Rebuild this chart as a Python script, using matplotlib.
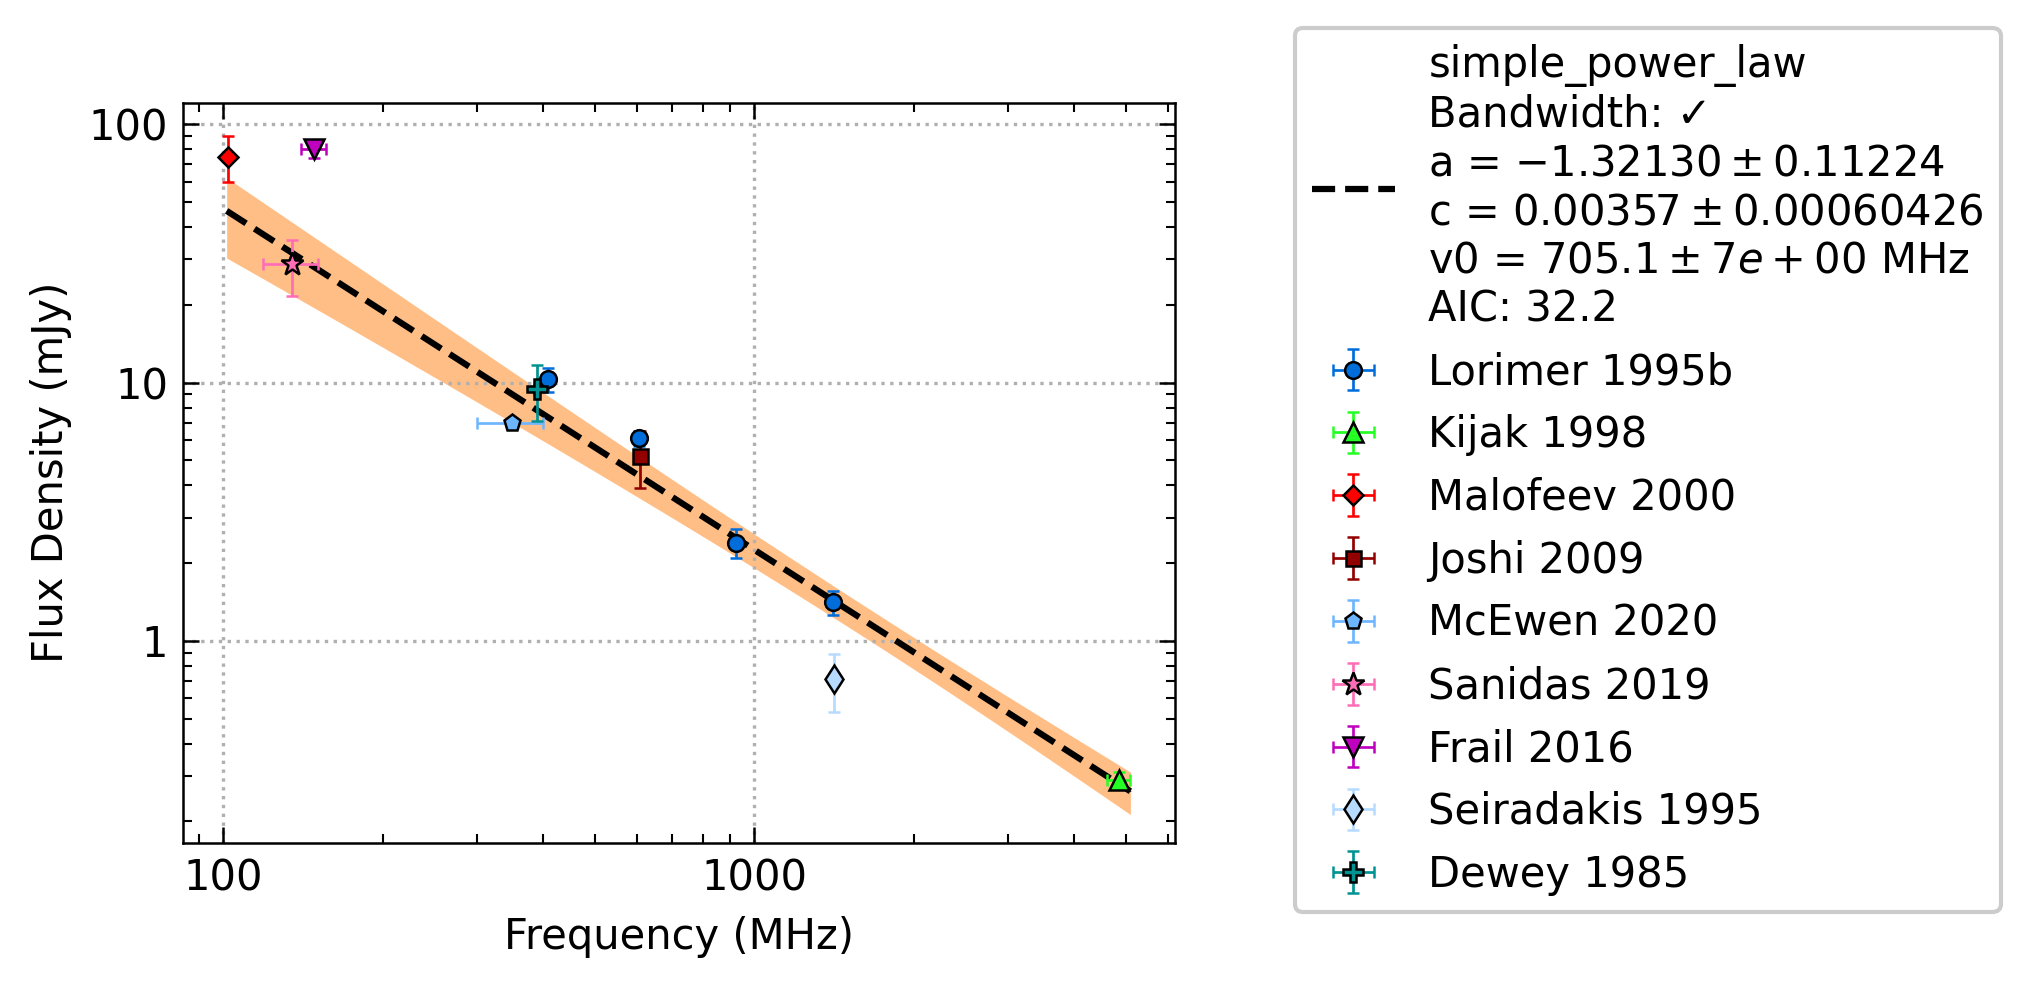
import numpy as np
import matplotlib
matplotlib.use("Agg")
import matplotlib.pyplot as plt
from matplotlib.ticker import FormatStrFormatter

# measurements: frequency (MHz) +- half bandwidth, flux density (mJy) +- error
lorimer_freq = [408, 606, 925, 1408]
lorimer_freq_err = [2, 4, 10, 20]
lorimer_flux = [10.3, 6.1, 2.4, 1.41]
lorimer_flux_err = [1.1, 0.4, 0.3, 0.15]

kijak_freq = [4850]
kijak_freq_err = [250]
kijak_flux = [0.29]
kijak_flux_err = [0.02]

malofeev_freq = [102]
malofeev_freq_err = [0.5]
malofeev_flux = [75]
malofeev_flux_err = [15]

joshi_freq = [610]
joshi_freq_err = [8]
joshi_flux = [5.2]
joshi_flux_err = [1.3]

mcewen_freq = [350]
mcewen_freq_err = [50]
mcewen_flux = [7.0]
mcewen_flux_err = [0.3]

sanidas_freq = [135]
sanidas_freq_err = [16]
sanidas_flux = [28.7]
sanidas_flux_err = [7]

frail_freq = [148]
frail_freq_err = [8]
frail_flux = [80]
frail_flux_err = [6]

seiradakis_freq = [1410]
seiradakis_freq_err = [20]
seiradakis_flux = [0.71]
seiradakis_flux_err = [0.18]

dewey_freq = [390]
dewey_freq_err = [5]
dewey_flux = [9.4]
dewey_flux_err = [2.3]

# simple power law fit: S = c * (v / v0)^a   (c in Jy)
fit_a, fit_a_err = -1.32130, 0.11224
fit_c, fit_c_err = 0.00357, 0.00060426
fit_v0, fit_v0_err = 705.1, 7
fit_corr_ac = -0.57
fit_aic = 32.2

datasets = [
    ("Lorimer 1995b", lorimer_freq, lorimer_freq_err, lorimer_flux, lorimer_flux_err, "#006ddb", "o", 4.0),
    ("Kijak 1998", kijak_freq, kijak_freq_err, kijak_flux, kijak_flux_err, "#24ff24", "^", 4.6),
    ("Malofeev 2000", malofeev_freq, malofeev_freq_err, malofeev_flux, malofeev_flux_err, "r", "D", 3.4),
    ("Joshi 2009", joshi_freq, joshi_freq_err, joshi_flux, joshi_flux_err, "#920000", "s", 3.6),
    ("McEwen 2020", mcewen_freq, mcewen_freq_err, mcewen_flux, mcewen_flux_err, "#6db6ff", "p", 4.2),
    ("Sanidas 2019", sanidas_freq, sanidas_freq_err, sanidas_flux, sanidas_flux_err, "#ff6db6", "*", 5.8),
    ("Frail 2016", frail_freq, frail_freq_err, frail_flux, frail_flux_err, "m", "v", 4.8),
    ("Seiradakis 1995", seiradakis_freq, seiradakis_freq_err, seiradakis_flux, seiradakis_flux_err, "#b6dbff", "d", 4.9),
    ("Dewey 1985", dewey_freq, dewey_freq_err, dewey_flux, dewey_flux_err, "#009292", "P", 4.9),
]

plt.rcParams.update({
    "font.size": 10,
    "xtick.direction": "in", "ytick.direction": "in",
    "xtick.top": True, "ytick.right": True,
    "xtick.major.size": 3.8, "ytick.major.size": 3.8,
    "xtick.minor.size": 2.2, "ytick.minor.size": 2.2,
    "xtick.major.width": 0.6, "ytick.major.width": 0.6,
    "xtick.minor.width": 0.5, "ytick.minor.width": 0.5,
    "axes.linewidth": 0.6,
})

fig = plt.figure(figsize=(2030 / 300, 987 / 300), dpi=300)
ax = fig.add_axes([0.090, 0.146, 0.489, 0.750])

# fit line and 1-sigma band over the data range
all_lo = [f - e for _, fr, fe, *_ in datasets for f, e in zip(fr, fe)]
all_hi = [f + e for _, fr, fe, *_ in datasets for f, e in zip(fr, fe)]
fit_x = np.logspace(np.log10(min(all_lo)), np.log10(max(all_hi)), 200)
L = np.log(fit_x / fit_v0)
fit_y = fit_c * 1000 * (fit_x / fit_v0) ** fit_a
rel_c = fit_c_err / fit_c
rel = np.sqrt(rel_c ** 2 + (L * fit_a_err) ** 2 + 2 * fit_corr_ac * L * fit_a_err * rel_c)
ax.fill_between(fit_x, fit_y * (1 - rel), fit_y * (1 + rel), color="C1", alpha=0.5, lw=0)

fit_label = (
    "simple_power_law\n"
    "Bandwidth: \u2713\n"
    f"a = ${fit_a:.5f} \\pm {fit_a_err:.5f}$\n"
    f"c = ${fit_c:.5f} \\pm {fit_c_err}$\n"
    f"v0 = ${fit_v0:.1f} \\pm {fit_v0_err:.0e}$ MHz\n"
    f"AIC: {fit_aic}"
)
line, = ax.plot(fit_x, fit_y, "k--", lw=1.5, label=fit_label)

handles = [line]
for name, fr, fe, fl, fle, col, mk, ms in datasets:
    h = ax.errorbar(fr, fl, xerr=fe, yerr=fle, fmt=mk, color=col, ecolor=col,
                    markersize=ms, markeredgecolor="k", markeredgewidth=0.6,
                    elinewidth=0.65, capsize=1.4, capthick=0.65, label=name)
    handles.append(h)

ax.set_xscale("log")
ax.set_yscale("log")
ax.set_xlim(83.9, 6198)
ax.set_ylim(0.165, 121.3)
ax.xaxis.set_major_formatter(FormatStrFormatter("%g"))
ax.yaxis.set_major_formatter(FormatStrFormatter("%g"))
ax.grid(True, which="major", ls=":", color="#b0b0b0", lw=0.8)
ax.set_xlabel("Frequency (MHz)")
ax.set_ylabel("Flux Density (mJy)")

ax.legend(handles=handles, loc="upper left", bbox_to_anchor=(0.638, 0.972),
          bbox_transform=fig.transFigure, borderaxespad=0, fontsize=10,
          edgecolor="#cccccc", framealpha=1)

fig.savefig("out.png", dpi=300)
